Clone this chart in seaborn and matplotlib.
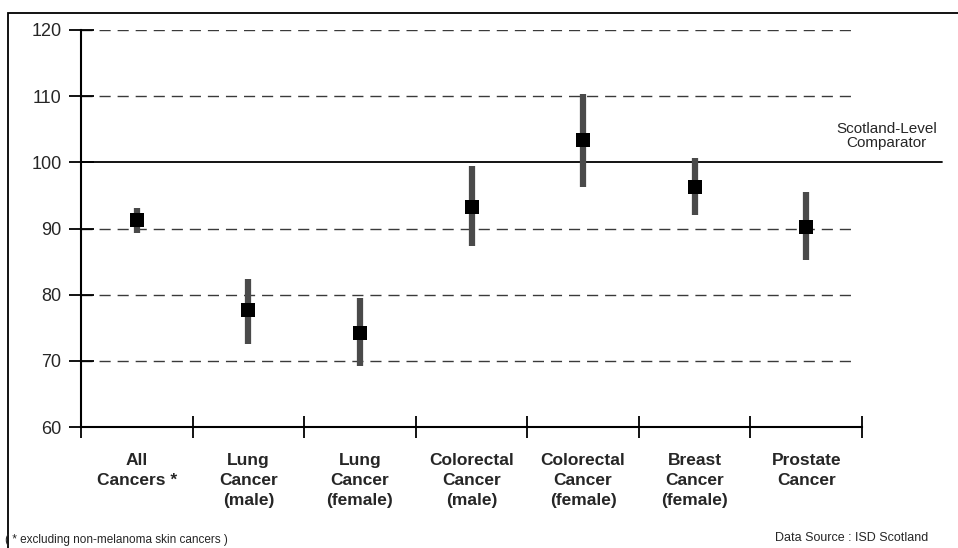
import matplotlib
matplotlib.use("Agg")
import matplotlib.pyplot as plt
import seaborn as sns
import pandas as pd
from matplotlib.patches import Rectangle

categories = ["All\nCancers *", "Lung\nCancer\n(male)", "Lung\nCancer\n(female)",
              "Colorectal\nCancer\n(male)", "Colorectal\nCancer\n(female)",
              "Breast\nCancer\n(female)", "Prostate\nCancer"]
ratio = [91.3, 77.7, 74.2, 93.2, 103.4, 96.3, 90.2]
lower = [89.3, 72.5, 69.2, 87.3, 96.3, 92.0, 85.2]
upper = [93.1, 82.4, 79.5, 99.4, 110.4, 100.6, 95.5]
yticks = [60, 70, 80, 90, 100, 110, 120]
comparator = 100

df = pd.DataFrame({"pos": range(len(categories)), "ratio": ratio,
                   "lower": lower, "upper": upper})

sns.set_style("white")
plt.rcParams["font.family"] = ["Liberation Sans", "DejaVu Sans"]

fig = plt.figure(figsize=(9.58, 5.48), dpi=100)
ax = fig.add_axes([81/958, 1-427/548, (862-81)/958, (427-30)/548])

# gridlines
for y in yticks[1:]:
    if y == comparator:
        continue
    ax.axhline(y, color="#3a3a3a", lw=1, ls=(0, (8, 5)), zorder=0, xmax=0.993)

# comparator line (extends beyond plot area)
ax.plot([-0.5, 7.22], [comparator, comparator], color="black", lw=1.3,
        clip_on=False, zorder=1)
ax.text(7.22 - 0.5, comparator + 1.8, "Scotland-Level\nComparator", ha="center",
        va="bottom", fontsize=11, linespacing=1.0)

# error bars
ax.vlines(df["pos"], df["lower"], df["upper"], color="#4a4a4a", lw=4.5, zorder=2)
sns.scatterplot(data=df, x="pos", y="ratio", marker="s", s=90, color="black",
                edgecolor="black", linewidth=0, zorder=3, ax=ax, legend=False)

ax.set_xlim(-0.5, 6.5)
ax.set_ylim(60, 120)
ax.set_yticks(yticks)
ax.set_yticklabels([str(v) for v in yticks], fontsize=13)
ax.set_xticks([i - 0.5 for i in range(len(categories) + 1)])
ax.set_xticklabels([])
ax.set_xticks(range(len(categories)), minor=True)
ax.set_xticklabels(categories, minor=True, fontsize=12.5, fontweight="bold",
                   linespacing=1.42)
ax.tick_params(axis="x", which="minor", length=0, pad=19, bottom=False)
ax.tick_params(axis="x", which="major", direction="inout", length=16, width=1.3,
               color="black", bottom=True)
ax.tick_params(axis="y", direction="inout", length=18, width=1.3, color="black",
               pad=5, left=True)
ax.set_xlabel("")
ax.set_ylabel("")
for s in ["top", "right"]:
    ax.spines[s].set_visible(False)
for s in ["left", "bottom"]:
    ax.spines[s].set_color("black")
    ax.spines[s].set_linewidth(1.5)

fig.text(5/958, 1-540/548, "( * excluding non-melanoma skin cancers )",
         fontsize=8.5, ha="left", va="center")
fig.text(928/958, 1-538/548, "Data Source : ISD Scotland", fontsize=9,
         ha="right", va="center")

fig.patches.append(Rectangle((8/958, -0.05), 1.1, 1.05 - 13/548,
                             transform=fig.transFigure, fill=False,
                             edgecolor="black", lw=1.3))

fig.savefig("out.png", dpi=100)
